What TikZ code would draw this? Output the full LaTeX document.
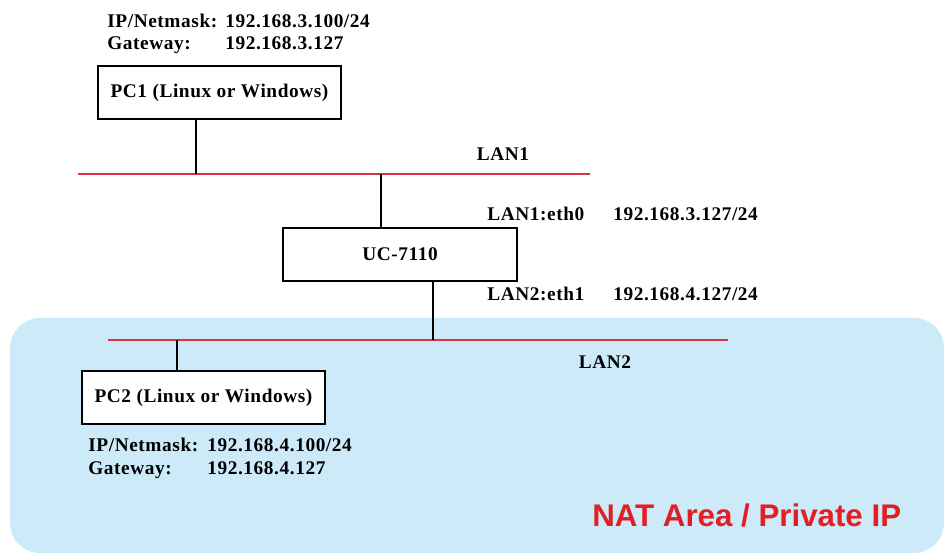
\documentclass[tikz,border=0pt]{standalone}
\usepackage{fontspec}
\setmainfont{Liberation Serif}
\newfontfamily\natfont{Liberation Sans}
\usetikzlibrary{positioning}

\definecolor{natblue}{RGB}{204,234,247}
\definecolor{lanred}{RGB}{220,50,70}
\definecolor{natred}{RGB}{228,30,37}

\newcommand{\hostfont}{\fontsize{11}{13}\selectfont\bfseries\addfontfeatures{LetterSpace=3}}

\tikzset{
  hostbox/.style={draw, line width=0.7pt, fill=white, minimum width=4.86cm,
    minimum height=1.06cm, inner sep=0pt, font=\hostfont},
  lanline/.style={draw=lanred, line width=0.9pt},
  wire/.style={line width=0.6pt},
  info/.style={anchor=base west, inner sep=0pt, font=\hostfont},
  natlabel/.style={anchor=base west, inner sep=0pt, text=natred,
    font=\natfont\bfseries\fontsize{17.8}{20}\selectfont},
}

\begin{document}
\begin{tikzpicture}[x=0.02cm, y=-0.02cm]
        \useasboundingbox (0,0) rectangle (946,555);

        % NAT area
        \fill[natblue, rounded corners=0.6cm] (10,318) rectangle (944,553);
        \node[natlabel] (nat) at (592,526) {NAT Area / Private IP};

        % LAN segments
        \coordinate (lan1w) at (78,174);
        \coordinate (lan1e) at (590,174);
        \draw[lanline] (lan1w) -- (lan1e);
        \node[info, anchor=base] (lan1) at (503,160) {LAN1};

        \coordinate (lan2w) at (108,340);
        \coordinate (lan2e) at (728,340);
        \draw[lanline] (lan2w) -- (lan2e);
        \node[info, anchor=base] (lan2) at (605,368) {LAN2};

        % hosts
        \node[hostbox] (pc1) at (219.5,92.5) {PC1 (Linux or Windows)};
        \node[hostbox, minimum width=4.68cm] (uc) at (400,254.5) {UC-7110};
        \node[hostbox] (pc2) at (203.5,397.5) {PC2 (Linux or Windows)};

        % taps
        \coordinate (tap1) at (196,174);
        \coordinate (tap2) at (381,174);
        \coordinate (tap3) at (433,340);
        \coordinate (tap4) at (177,340);
        \draw[wire] (tap1) -- (tap1 |- pc1.south);
        \draw[wire] (tap2) -- (tap2 |- uc.north);
        \draw[wire] (tap3 |- uc.south) -- (tap3);
        \draw[wire] (tap4) -- (tap4 |- pc2.north);

        % addresses
        \node[info] (ip1) at (107,27) {IP/Netmask:};
        \node[info] (ip1v) at (225,27) {192.168.3.100/24};
        \node[info] (gw1) at (107,49) {Gateway:};
        \node[info] (gw1v) at (225,49) {192.168.3.127};

        \node[info] (eth0) at (487,220) {LAN1:eth0};
        \node[info] (eth0v) at (613,220) {192.168.3.127/24};
        \node[info] (eth1) at (487,300) {LAN2:eth1};
        \node[info] (eth1v) at (613,300) {192.168.4.127/24};

        \node[info] (ip2) at (88,451) {IP/Netmask:};
        \node[info] (ip2v) at (207,451) {192.168.4.100/24};
        \node[info] (gw2) at (88,474) {Gateway:};
        \node[info] (gw2v) at (207,474) {192.168.4.127};
\end{tikzpicture}
\end{document}
